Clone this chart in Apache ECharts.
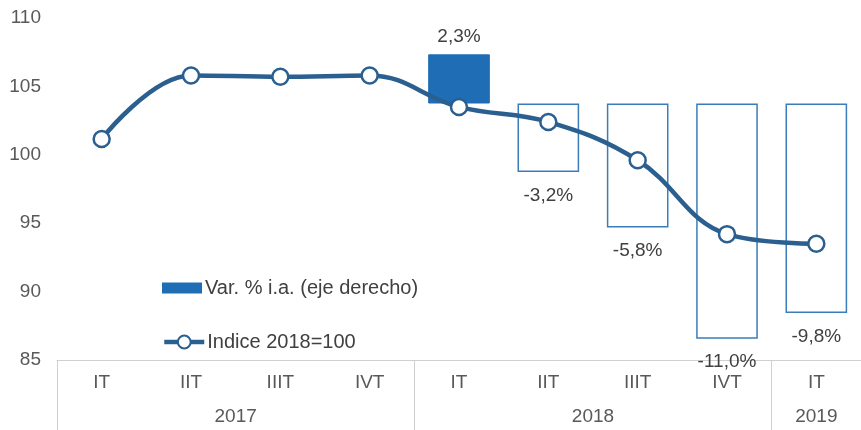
<!DOCTYPE html>
<html>
<head>
<meta charset="utf-8">
<script src="https://cdn.jsdelivr.net/npm/echarts@6/dist/echarts.min.js"></script>
<style>html,body{margin:0;padding:0;background:#fff;}#c{width:861px;height:430px;}</style>
</head>
<body>
<div id="c"></div>
<script>
const quarters = ['IT','IIT','IIIT','IVT','IT','IIT','IIIT','IVT','IT'];
const years = ['2017','2018','2019'];
const yearGroupSizes = [4,4,1];
const indice = [101.15, 105.8, 105.7, 105.8, 103.5, 102.4, 99.6, 94.2, 93.5];
const varIA = [null, null, null, null, 2.3, -3.2, -5.8, -11.0, -9.8];
const leftTicks = [85, 90, 95, 100, 105, 110];

const barColor = '#1f6db5';
const outlineColor = '#3a7db8';
const lineColor = '#2a5f90';
const textColor = '#404040';
const font = 'Liberation Sans, Arial, sans-serif';
const fs = 19;

// year group boundaries and centers
const bounds = [0]; const centers = [];
yearGroupSizes.forEach((s,i)=>{ centers.push(bounds[i] + s/2); bounds.push(bounds[i] + s); });

const barData = varIA.map((v,i)=>{
  if (v === null) return '-';
  const filled = v >= 0;
  return {
    value: v,
    itemStyle: filled ? {color: barColor, borderColor: barColor, borderWidth: 1}
                      : {color: 'rgba(255,255,255,0)', borderColor: outlineColor, borderWidth: 1.5},
    label: {position: filled ? 'top' : 'bottom', distance: filled ? 8 : 14}
  };
});

const chart = echarts.init(document.getElementById('c'));
chart.setOption({
  animation: false,
  textStyle: {fontFamily: font},
  grid: {left: 57, right: -12, top: 18, bottom: 70, containLabel: false},
  legend: [
    {data: [{name: 'Var. % i.a. (eje derecho)', icon: 'rect'}], left: 162, top: 278, padding: 0, itemWidth: 40, itemHeight: 11, itemGap: 3,
     textStyle: {color: textColor, fontSize: 20, fontFamily: font, padding: [0,0,0,-2]}},
    {data: ['Indice 2018=100'], left: 162, top: 332, padding: 0, itemWidth: 40, itemHeight: 16,
     lineStyle: {width: 4.5, color: lineColor},
     textStyle: {color: textColor, fontSize: 20, fontFamily: font, padding: [0,0,0,-2]}}
  ],
  xAxis: [
    {type: 'category', data: quarters, gridIndex: 0, position: 'bottom',
     axisLine: {show: true, onZero: false, lineStyle: {color: '#d0d0d0', width: 1}},
     axisTick: {show: false},
     axisLabel: {color: '#595959', fontSize: fs, margin: 13, fontFamily: font},
     splitLine: {show: false}},
    {type: 'value', min: 0, max: quarters.length, gridIndex: 0, position: 'bottom',
     axisLine: {show: false, onZero: false},
     axisTick: {show: true, customValues: bounds, length: 80, lineStyle: {color: '#d0d0d0', width: 1}},
     axisLabel: {show: true, customValues: centers, margin: 47, color: '#595959', fontSize: fs, fontFamily: font,
                 formatter: v => { const i = centers.indexOf(v); return i >= 0 ? years[i] : ''; }},
     splitLine: {show: false}}
  ],
  yAxis: [
    {type: 'value', min: leftTicks[0], max: leftTicks[leftTicks.length-1], interval: 5,
     axisLine: {show: false}, axisTick: {show: false}, splitLine: {show: false},
     axisLabel: {color: '#595959', fontSize: fs, margin: 16, fontFamily: font}},
    {type: 'value', min: -12, max: 4, show: false, splitLine: {show: false}}
  ],
  series: [
    {name: 'Var. % i.a. (eje derecho)', type: 'bar', xAxisIndex: 0, yAxisIndex: 1, data: barData,
     barWidth: '69%', itemStyle: {color: barColor},
     label: {show: true, color: textColor, fontSize: fs, fontFamily: font,
             formatter: p => p.value.toFixed(1).replace('.', ',') + '%'},
     z: 2},
    {name: 'Indice 2018=100', type: 'line', xAxisIndex: 0, yAxisIndex: 0, data: indice,
     smooth: 0.4, symbol: 'circle', symbolSize: 16,
     lineStyle: {color: lineColor, width: 4.5},
     itemStyle: {color: '#ffffff', borderColor: lineColor, borderWidth: 2.5},
     z: 5}
  ]
});
</script>
</body>
</html>
